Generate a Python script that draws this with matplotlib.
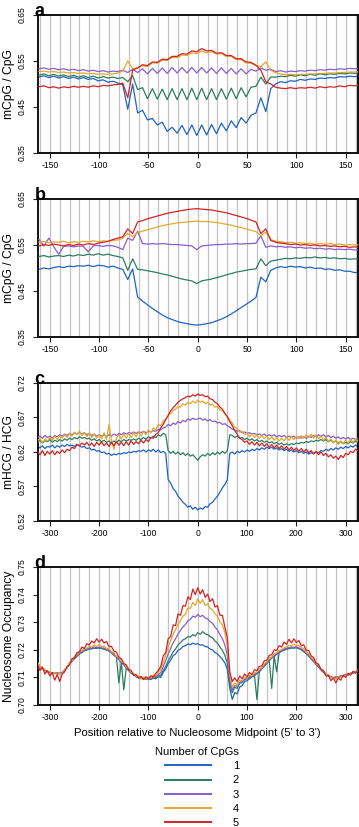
import numpy as np
import matplotlib
matplotlib.use("Agg")
import matplotlib.pyplot as plt

plt.rcParams['font.family'] = ['Liberation Sans', 'DejaVu Sans']
plt.rcParams['axes.unicode_minus'] = False

# ---------------- data ----------------
pos_ab = np.arange(-161, 165, 5)   # 66 positions, panels a/b
pos_cd = np.arange(-325, 326, 5)   # 131 positions, panels c/d

labels = ['1', '2', '3', '4', '5']
colors = ['#1f63c4', '#2b7d5f', '#8a5cd0', '#e3a82a', '#d42224']

# panel a : mCpG / CpG
a1 = [0.515, 0.518, 0.514, 0.517, 0.513, 0.516, 0.512, 0.515, 0.511, 0.514,
      0.510, 0.512, 0.507, 0.509, 0.504, 0.506, 0.502, 0.498, 0.445, 0.500,
      0.437, 0.443, 0.422, 0.425, 0.411, 0.417, 0.397, 0.406, 0.393, 0.410,
      0.390, 0.411, 0.388, 0.411, 0.389, 0.412, 0.392, 0.415, 0.398, 0.420,
      0.405, 0.427, 0.415, 0.432, 0.437, 0.470, 0.440, 0.490, 0.500, 0.505,
      0.503, 0.507, 0.506, 0.510, 0.508, 0.511, 0.510, 0.513, 0.512, 0.514,
      0.513, 0.516, 0.515, 0.517, 0.516, 0.517]
a2 = [0.519, 0.522, 0.518, 0.521, 0.517, 0.520, 0.516, 0.519, 0.515, 0.518,
      0.514, 0.517, 0.513, 0.516, 0.513, 0.515, 0.512, 0.514, 0.505, 0.518,
      0.488, 0.492, 0.468, 0.490, 0.467, 0.489, 0.466, 0.490, 0.466, 0.490,
      0.466, 0.491, 0.466, 0.491, 0.466, 0.490, 0.466, 0.490, 0.467, 0.491,
      0.468, 0.492, 0.472, 0.493, 0.495, 0.515, 0.500, 0.515, 0.515, 0.517,
      0.516, 0.519, 0.517, 0.520, 0.518, 0.521, 0.519, 0.522, 0.520, 0.522,
      0.521, 0.523, 0.522, 0.524, 0.523, 0.524]
a3 = [0.533, 0.535, 0.532, 0.534, 0.531, 0.533, 0.530, 0.532, 0.529, 0.531,
      0.528, 0.530, 0.527, 0.529, 0.526, 0.528, 0.527, 0.530, 0.525, 0.532,
      0.525, 0.533, 0.522, 0.534, 0.523, 0.535, 0.523, 0.536, 0.524, 0.536,
      0.524, 0.536, 0.524, 0.536, 0.524, 0.535, 0.523, 0.535, 0.523, 0.534,
      0.522, 0.533, 0.522, 0.532, 0.528, 0.535, 0.530, 0.532, 0.527, 0.529,
      0.526, 0.528, 0.527, 0.529, 0.528, 0.530, 0.529, 0.531, 0.530, 0.532,
      0.531, 0.533, 0.532, 0.534, 0.533, 0.534]
a4 = [0.527, 0.528, 0.526, 0.527, 0.525, 0.526, 0.524, 0.525, 0.523, 0.524,
      0.522, 0.523, 0.521, 0.522, 0.521, 0.522, 0.524, 0.528, 0.550, 0.533,
      0.535, 0.540, 0.538, 0.546, 0.545, 0.552, 0.551, 0.558, 0.557, 0.563,
      0.562, 0.568, 0.566, 0.572, 0.568, 0.570, 0.565, 0.566, 0.560, 0.560,
      0.553, 0.553, 0.546, 0.545, 0.540, 0.538, 0.548, 0.530, 0.524, 0.522,
      0.520, 0.521, 0.520, 0.521, 0.521, 0.522, 0.522, 0.523, 0.523, 0.524,
      0.524, 0.525, 0.525, 0.526, 0.526, 0.527]
a5 = [0.494, 0.496, 0.492, 0.494, 0.491, 0.494, 0.492, 0.495, 0.493, 0.495,
      0.493, 0.496, 0.494, 0.497, 0.496, 0.498, 0.499, 0.502, 0.470, 0.530,
      0.535, 0.542, 0.540, 0.548, 0.547, 0.554, 0.553, 0.560, 0.560, 0.566,
      0.565, 0.572, 0.570, 0.577, 0.572, 0.573, 0.567, 0.568, 0.562, 0.562,
      0.555, 0.555, 0.548, 0.547, 0.541, 0.530, 0.505, 0.500, 0.493, 0.491,
      0.490, 0.492, 0.490, 0.492, 0.491, 0.493, 0.491, 0.494, 0.492, 0.494,
      0.493, 0.496, 0.494, 0.497, 0.496, 0.498]

# panel b : mCpG / CpG
b1 = [0.497, 0.500, 0.498, 0.501, 0.503, 0.501, 0.504, 0.503, 0.505, 0.504,
      0.506, 0.503, 0.506, 0.505, 0.502, 0.504, 0.500, 0.497, 0.475, 0.498,
      0.437, 0.428, 0.420, 0.412, 0.405, 0.398, 0.392, 0.388, 0.384, 0.381,
      0.379, 0.377, 0.376, 0.377, 0.379, 0.381, 0.385, 0.389, 0.394, 0.400,
      0.407, 0.414, 0.421, 0.428, 0.436, 0.480, 0.470, 0.495, 0.500, 0.503,
      0.501, 0.504, 0.502, 0.503, 0.500, 0.502, 0.499, 0.500, 0.497, 0.498,
      0.495, 0.496, 0.493, 0.493, 0.490, 0.491]
b2 = [0.525, 0.527, 0.524, 0.526, 0.527, 0.525, 0.528, 0.526, 0.529, 0.527,
      0.530, 0.528, 0.531, 0.528, 0.530, 0.527, 0.525, 0.522, 0.495, 0.520,
      0.497, 0.496, 0.494, 0.492, 0.490, 0.487, 0.485, 0.482, 0.479, 0.476,
      0.474, 0.472, 0.466, 0.472, 0.474, 0.476, 0.479, 0.482, 0.485, 0.488,
      0.491, 0.493, 0.495, 0.497, 0.498, 0.520, 0.505, 0.515, 0.517, 0.519,
      0.521, 0.520, 0.522, 0.521, 0.523, 0.522, 0.524, 0.522, 0.523, 0.521,
      0.522, 0.520, 0.521, 0.519, 0.520, 0.519]
b3 = [0.562, 0.548, 0.565, 0.546, 0.530, 0.547, 0.548, 0.546, 0.548, 0.547,
      0.535, 0.548, 0.549, 0.547, 0.549, 0.548, 0.545, 0.540, 0.565, 0.560,
      0.580, 0.553, 0.552, 0.553, 0.552, 0.553, 0.552, 0.551, 0.551, 0.550,
      0.549, 0.548, 0.540, 0.548, 0.549, 0.550, 0.551, 0.551, 0.552, 0.552,
      0.553, 0.552, 0.553, 0.553, 0.554, 0.570, 0.545, 0.548, 0.546, 0.547,
      0.545, 0.546, 0.544, 0.545, 0.543, 0.544, 0.542, 0.543, 0.541, 0.542,
      0.540, 0.541, 0.540, 0.541, 0.539, 0.540]
b4 = [0.556, 0.558, 0.555, 0.557, 0.556, 0.558, 0.555, 0.557, 0.556, 0.558,
      0.557, 0.559, 0.557, 0.559, 0.558, 0.560, 0.561, 0.565, 0.575, 0.568,
      0.577, 0.580, 0.583, 0.586, 0.589, 0.592, 0.594, 0.596, 0.598, 0.599,
      0.600, 0.601, 0.602, 0.601, 0.601, 0.600, 0.599, 0.597, 0.595, 0.593,
      0.590, 0.588, 0.585, 0.582, 0.579, 0.570, 0.578, 0.562, 0.558, 0.557,
      0.555, 0.556, 0.554, 0.555, 0.553, 0.554, 0.552, 0.553, 0.552, 0.553,
      0.551, 0.552, 0.550, 0.551, 0.550, 0.551]
b5 = [0.548, 0.551, 0.549, 0.552, 0.550, 0.548, 0.551, 0.549, 0.552, 0.550,
      0.553, 0.551, 0.554, 0.556, 0.558, 0.562, 0.565, 0.568, 0.585, 0.575,
      0.600, 0.603, 0.607, 0.610, 0.613, 0.616, 0.619, 0.621, 0.623, 0.625,
      0.627, 0.628, 0.629, 0.628, 0.627, 0.626, 0.624, 0.622, 0.620, 0.617,
      0.614, 0.611, 0.608, 0.604, 0.600, 0.575, 0.585, 0.560, 0.556, 0.554,
      0.553, 0.551, 0.552, 0.550, 0.551, 0.549, 0.550, 0.548, 0.549, 0.547,
      0.548, 0.546, 0.547, 0.545, 0.546, 0.545]

# panel c : mHCG / HCG
c1 = [0.628, 0.626, 0.629, 0.625, 0.628, 0.627, 0.630, 0.626, 0.629, 0.627,
      0.630, 0.628, 0.631, 0.629, 0.630, 0.628, 0.631, 0.629, 0.627, 0.628,
      0.625, 0.626, 0.623, 0.624, 0.621, 0.622, 0.619, 0.620, 0.617, 0.618,
      0.615, 0.617, 0.616, 0.618, 0.617, 0.619, 0.618, 0.620, 0.619, 0.621,
      0.620, 0.622, 0.621, 0.623, 0.620, 0.623, 0.621, 0.624, 0.620, 0.623,
      0.619, 0.621, 0.618, 0.580, 0.575, 0.567, 0.563, 0.556, 0.552, 0.547,
      0.544, 0.540, 0.542, 0.537, 0.540, 0.536, 0.539, 0.537, 0.541, 0.540,
      0.545, 0.547, 0.552, 0.556, 0.562, 0.568, 0.573, 0.580, 0.618, 0.620,
      0.617, 0.621, 0.619, 0.622, 0.620, 0.623, 0.621, 0.624, 0.622, 0.625,
      0.623, 0.626, 0.624, 0.627, 0.625, 0.627, 0.624, 0.626, 0.623, 0.625,
      0.622, 0.624, 0.621, 0.623, 0.620, 0.622, 0.619, 0.621, 0.618, 0.620,
      0.617, 0.619, 0.618, 0.620, 0.619, 0.622, 0.621, 0.624, 0.622, 0.625,
      0.623, 0.626, 0.624, 0.627, 0.625, 0.628, 0.626, 0.629, 0.627, 0.630,
      0.628]
c2 = [0.634, 0.637, 0.633, 0.636, 0.635, 0.638, 0.634, 0.637, 0.635, 0.638,
      0.636, 0.639, 0.637, 0.640, 0.638, 0.641, 0.639, 0.642, 0.640, 0.641,
      0.639, 0.640, 0.637, 0.639, 0.636, 0.638, 0.635, 0.637, 0.634, 0.636,
      0.633, 0.636, 0.634, 0.637, 0.635, 0.638, 0.636, 0.638, 0.637, 0.639,
      0.637, 0.640, 0.638, 0.641, 0.639, 0.642, 0.640, 0.643, 0.641, 0.645,
      0.643, 0.647, 0.645, 0.622, 0.618, 0.621, 0.617, 0.620, 0.616, 0.619,
      0.615, 0.618, 0.614, 0.616, 0.612, 0.608, 0.613, 0.616, 0.614, 0.618,
      0.615, 0.619, 0.616, 0.620, 0.617, 0.621, 0.618, 0.622, 0.645, 0.644,
      0.641, 0.643, 0.640, 0.641, 0.638, 0.640, 0.637, 0.639, 0.636, 0.638,
      0.635, 0.637, 0.634, 0.636, 0.633, 0.635, 0.632, 0.634, 0.631, 0.633,
      0.630, 0.632, 0.630, 0.632, 0.631, 0.633, 0.632, 0.634, 0.633, 0.635,
      0.634, 0.636, 0.635, 0.637, 0.636, 0.638, 0.636, 0.638, 0.635, 0.637,
      0.634, 0.636, 0.633, 0.635, 0.632, 0.634, 0.632, 0.635, 0.633, 0.636,
      0.634]
c3 = [0.641, 0.643, 0.640, 0.644, 0.641, 0.643, 0.640, 0.644, 0.642, 0.645,
      0.643, 0.646, 0.644, 0.647, 0.645, 0.648, 0.646, 0.649, 0.646, 0.648,
      0.645, 0.647, 0.644, 0.646, 0.643, 0.645, 0.643, 0.645, 0.642, 0.645,
      0.643, 0.646, 0.644, 0.647, 0.645, 0.648, 0.646, 0.648, 0.647, 0.649,
      0.647, 0.649, 0.648, 0.650, 0.648, 0.650, 0.649, 0.651, 0.650, 0.653,
      0.652, 0.655, 0.656, 0.660, 0.658, 0.662, 0.660, 0.664, 0.662, 0.666,
      0.664, 0.668, 0.666, 0.669, 0.667, 0.668, 0.669, 0.666, 0.668, 0.665,
      0.667, 0.664, 0.665, 0.662, 0.663, 0.660, 0.661, 0.658, 0.656, 0.653,
      0.652, 0.650, 0.651, 0.648, 0.649, 0.647, 0.648, 0.646, 0.647, 0.645,
      0.646, 0.644, 0.646, 0.643, 0.645, 0.643, 0.645, 0.642, 0.644, 0.642,
      0.644, 0.641, 0.643, 0.641, 0.643, 0.640, 0.642, 0.640, 0.642, 0.640,
      0.643, 0.641, 0.644, 0.642, 0.645, 0.643, 0.645, 0.642, 0.644, 0.641,
      0.643, 0.640, 0.642, 0.639, 0.641, 0.639, 0.641, 0.638, 0.640, 0.638,
      0.640]
c4 = [0.636, 0.640, 0.633, 0.639, 0.636, 0.641, 0.637, 0.643, 0.638, 0.644,
      0.640, 0.645, 0.641, 0.647, 0.643, 0.649, 0.645, 0.650, 0.644, 0.648,
      0.642, 0.647, 0.641, 0.646, 0.640, 0.645, 0.639, 0.648, 0.638, 0.660,
      0.637, 0.624, 0.640, 0.645, 0.639, 0.646, 0.640, 0.647, 0.641, 0.648,
      0.642, 0.649, 0.643, 0.650, 0.645, 0.652, 0.648, 0.655, 0.652, 0.660,
      0.658, 0.665, 0.667, 0.673, 0.676, 0.680, 0.682, 0.686, 0.685, 0.690,
      0.688, 0.692, 0.690, 0.694, 0.691, 0.695, 0.692, 0.694, 0.690, 0.692,
      0.688, 0.689, 0.685, 0.686, 0.681, 0.680, 0.675, 0.672, 0.666, 0.662,
      0.656, 0.654, 0.649, 0.650, 0.645, 0.647, 0.642, 0.646, 0.641, 0.645,
      0.640, 0.644, 0.639, 0.643, 0.638, 0.642, 0.637, 0.641, 0.636, 0.640,
      0.636, 0.641, 0.637, 0.642, 0.638, 0.643, 0.639, 0.644, 0.640, 0.645,
      0.641, 0.646, 0.640, 0.645, 0.639, 0.643, 0.637, 0.641, 0.635, 0.639,
      0.633, 0.637, 0.631, 0.636, 0.632, 0.637, 0.633, 0.638, 0.634, 0.639,
      0.636]
c5 = [0.620, 0.616, 0.622, 0.615, 0.621, 0.617, 0.622, 0.616, 0.621, 0.618,
      0.623, 0.619, 0.624, 0.622, 0.627, 0.625, 0.631, 0.629, 0.633, 0.630,
      0.634, 0.629, 0.633, 0.628, 0.634, 0.630, 0.635, 0.629, 0.633, 0.628,
      0.634, 0.629, 0.635, 0.630, 0.634, 0.629, 0.635, 0.630, 0.636, 0.631,
      0.635, 0.632, 0.637, 0.633, 0.638, 0.635, 0.641, 0.640, 0.646, 0.648,
      0.655, 0.660, 0.667, 0.673, 0.680, 0.684, 0.688, 0.692, 0.695, 0.697,
      0.699, 0.701, 0.700, 0.703, 0.701, 0.704, 0.702, 0.703, 0.700, 0.701,
      0.697, 0.696, 0.692, 0.690, 0.685, 0.682, 0.676, 0.671, 0.664, 0.658,
      0.651, 0.646, 0.640, 0.638, 0.634, 0.636, 0.631, 0.635, 0.630, 0.634,
      0.629, 0.633, 0.628, 0.632, 0.627, 0.631, 0.626, 0.630, 0.625, 0.629,
      0.624, 0.628, 0.623, 0.627, 0.622, 0.626, 0.621, 0.625, 0.620, 0.624,
      0.619, 0.622, 0.617, 0.621, 0.616, 0.620, 0.615, 0.618, 0.613, 0.616,
      0.611, 0.614, 0.609, 0.615, 0.612, 0.618, 0.616, 0.621, 0.619, 0.624,
      0.622]

# panel d : nucleosome occupancy
d1 = [0.7152, 0.7140, 0.7133, 0.7125, 0.7122, 0.7118, 0.7115, 0.7117, 0.7113, 0.7116,
      0.7114, 0.7127, 0.7135, 0.7150, 0.7158, 0.7170, 0.7176, 0.7186, 0.7190, 0.7197,
      0.7199, 0.7204, 0.7203, 0.7207, 0.7205, 0.7208, 0.7204, 0.7205, 0.7199, 0.7197,
      0.7189, 0.7182, 0.7173, 0.7165, 0.7153, 0.7146, 0.7134, 0.7126, 0.7115, 0.7110,
      0.7102, 0.7100, 0.7095, 0.7097, 0.7093, 0.7096, 0.7092, 0.7098, 0.7095, 0.7103,
      0.7100, 0.7118, 0.7130, 0.7150, 0.7162, 0.7178, 0.7185, 0.7198, 0.7203, 0.7212,
      0.7215, 0.7221, 0.7219, 0.7224, 0.7220, 0.7222, 0.7217, 0.7218, 0.7212, 0.7210,
      0.7203, 0.7199, 0.7190, 0.7185, 0.7175, 0.7166, 0.7152, 0.7130, 0.7060, 0.7020,
      0.7045, 0.7040, 0.7065, 0.7070, 0.7085, 0.7088, 0.7095, 0.7102, 0.7106, 0.7114,
      0.7120, 0.7131, 0.7140, 0.7152, 0.7160, 0.7170, 0.7176, 0.7184, 0.7189, 0.7195,
      0.7198, 0.7203, 0.7204, 0.7207, 0.7206, 0.7208, 0.7204, 0.7201, 0.7193, 0.7187,
      0.7177, 0.7168, 0.7157, 0.7148, 0.7137, 0.7128, 0.7118, 0.7112, 0.7104, 0.7102,
      0.7097, 0.7101, 0.7099, 0.7105, 0.7104, 0.7110, 0.7108, 0.7114, 0.7115, 0.7120,
      0.7124]
d2 = [0.7150, 0.7138, 0.7131, 0.7127, 0.7120, 0.7119, 0.7114, 0.7116, 0.7115, 0.7113,
      0.7117, 0.7125, 0.7137, 0.7148, 0.7160, 0.7168, 0.7179, 0.7185, 0.7192, 0.7196,
      0.7201, 0.7203, 0.7206, 0.7205, 0.7208, 0.7206, 0.7206, 0.7202, 0.7200, 0.7195,
      0.7190, 0.7180, 0.7175, 0.7080, 0.7155, 0.7055, 0.7136, 0.7124, 0.7117, 0.7108,
      0.7104, 0.7098, 0.7097, 0.7095, 0.7096, 0.7094, 0.7097, 0.7096, 0.7100, 0.7105,
      0.7108, 0.7125, 0.7140, 0.7160, 0.7175, 0.7192, 0.7203, 0.7218, 0.7226, 0.7236,
      0.7240, 0.7248, 0.7246, 0.7255, 0.7250, 0.7262, 0.7256, 0.7266, 0.7258, 0.7255,
      0.7248, 0.7243, 0.7232, 0.7224, 0.7210, 0.7198, 0.7180, 0.7150, 0.7075, 0.7045,
      0.7065, 0.7060, 0.7078, 0.7082, 0.7092, 0.7095, 0.7100, 0.7104, 0.7108, 0.7020,
      0.7122, 0.7133, 0.7142, 0.7150, 0.7162, 0.7060, 0.7178, 0.7120, 0.7190, 0.7196,
      0.7200, 0.7204, 0.7206, 0.7208, 0.7207, 0.7209, 0.7205, 0.7200, 0.7195, 0.7186,
      0.7178, 0.7167, 0.7158, 0.7147, 0.7138, 0.7127, 0.7119, 0.7110, 0.7106, 0.7100,
      0.7099, 0.7100, 0.7101, 0.7103, 0.7106, 0.7108, 0.7111, 0.7113, 0.7117, 0.7119,
      0.7123]
d3 = [0.7148, 0.7136, 0.7130, 0.7124, 0.7121, 0.7117, 0.7116, 0.7113, 0.7117, 0.7115,
      0.7118, 0.7128, 0.7136, 0.7150, 0.7161, 0.7172, 0.7180, 0.7188, 0.7193, 0.7199,
      0.7202, 0.7207, 0.7206, 0.7210, 0.7208, 0.7210, 0.7207, 0.7206, 0.7201, 0.7198,
      0.7190, 0.7184, 0.7174, 0.7166, 0.7156, 0.7147, 0.7136, 0.7127, 0.7118, 0.7111,
      0.7105, 0.7100, 0.7098, 0.7098, 0.7096, 0.7098, 0.7097, 0.7101, 0.7103, 0.7110,
      0.7118, 0.7140, 0.7160, 0.7185, 0.7205, 0.7225, 0.7240, 0.7258, 0.7270, 0.7283,
      0.7292, 0.7305, 0.7310, 0.7322, 0.7318, 0.7328, 0.7320, 0.7325, 0.7315, 0.7312,
      0.7302, 0.7296, 0.7282, 0.7272, 0.7255, 0.7240, 0.7218, 0.7180, 0.7090, 0.7055,
      0.7070, 0.7068, 0.7082, 0.7086, 0.7094, 0.7097, 0.7102, 0.7106, 0.7110, 0.7118,
      0.7124, 0.7134, 0.7144, 0.7154, 0.7163, 0.7171, 0.7179, 0.7186, 0.7192, 0.7198,
      0.7202, 0.7206, 0.7208, 0.7210, 0.7209, 0.7211, 0.7207, 0.7203, 0.7196, 0.7189,
      0.7180, 0.7170, 0.7160, 0.7150, 0.7140, 0.7130, 0.7121, 0.7114, 0.7107, 0.7103,
      0.7099, 0.7102, 0.7101, 0.7106, 0.7107, 0.7111, 0.7112, 0.7116, 0.7118, 0.7121,
      0.7125]
d4 = [0.7155, 0.7140, 0.7128, 0.7130, 0.7118, 0.7122, 0.7112, 0.7118, 0.7110, 0.7116,
      0.7112, 0.7130, 0.7134, 0.7155, 0.7160, 0.7178, 0.7182, 0.7195, 0.7196, 0.7206,
      0.7205, 0.7214, 0.7210, 0.7218, 0.7212, 0.7219, 0.7210, 0.7214, 0.7204, 0.7206,
      0.7192, 0.7190, 0.7176, 0.7172, 0.7158, 0.7152, 0.7138, 0.7132, 0.7118, 0.7115,
      0.7104, 0.7105, 0.7096, 0.7102, 0.7095, 0.7103, 0.7098, 0.7108, 0.7106, 0.7120,
      0.7130, 0.7155, 0.7180, 0.7210, 0.7232, 0.7256, 0.7272, 0.7292, 0.7305, 0.7322,
      0.7328, 0.7352, 0.7350, 0.7372, 0.7360, 0.7385, 0.7368, 0.7382, 0.7360, 0.7366,
      0.7350, 0.7345, 0.7330, 0.7322, 0.7302, 0.7290, 0.7262, 0.7215, 0.7110, 0.7065,
      0.7080, 0.7072, 0.7090, 0.7088, 0.7100, 0.7098, 0.7108, 0.7106, 0.7116, 0.7120,
      0.7130, 0.7136, 0.7150, 0.7156, 0.7170, 0.7174, 0.7186, 0.7189, 0.7198, 0.7200,
      0.7208, 0.7210, 0.7216, 0.7214, 0.7220, 0.7215, 0.7216, 0.7208, 0.7204, 0.7192,
      0.7186, 0.7172, 0.7165, 0.7150, 0.7144, 0.7130, 0.7124, 0.7112, 0.7108, 0.7098,
      0.7100, 0.7094, 0.7102, 0.7100, 0.7108, 0.7106, 0.7114, 0.7112, 0.7120, 0.7118,
      0.7126]
d5 = [0.7145, 0.7125, 0.7138, 0.7112, 0.7125, 0.7105, 0.7118, 0.7090, 0.7110, 0.7085,
      0.7112, 0.7120, 0.7140, 0.7145, 0.7168, 0.7170, 0.7190, 0.7192, 0.7210, 0.7205,
      0.7222, 0.7218, 0.7232, 0.7225, 0.7240, 0.7228, 0.7238, 0.7225, 0.7230, 0.7212,
      0.7212, 0.7195, 0.7192, 0.7172, 0.7168, 0.7150, 0.7145, 0.7128, 0.7125, 0.7108,
      0.7110, 0.7098, 0.7104, 0.7092, 0.7102, 0.7095, 0.7106, 0.7102, 0.7115, 0.7125,
      0.7140, 0.7178, 0.7190, 0.7240, 0.7248, 0.7290, 0.7288, 0.7330, 0.7325, 0.7360,
      0.7358, 0.7392, 0.7382, 0.7420, 0.7400, 0.7425, 0.7402, 0.7418, 0.7390, 0.7402,
      0.7375, 0.7385, 0.7355, 0.7360, 0.7325, 0.7325, 0.7282, 0.7245, 0.7120, 0.7085,
      0.7098, 0.7085, 0.7105, 0.7095, 0.7112, 0.7102, 0.7118, 0.7110, 0.7128, 0.7125,
      0.7140, 0.7142, 0.7160, 0.7162, 0.7180, 0.7182, 0.7200, 0.7198, 0.7215, 0.7210,
      0.7228, 0.7220, 0.7238, 0.7225, 0.7240, 0.7226, 0.7234, 0.7215, 0.7218, 0.7198,
      0.7198, 0.7178, 0.7172, 0.7152, 0.7148, 0.7128, 0.7125, 0.7105, 0.7108, 0.7088,
      0.7098, 0.7080, 0.7098, 0.7090, 0.7108, 0.7100, 0.7115, 0.7108, 0.7122, 0.7115,
      0.7128]

xticks_ab = [-150, -100, -50, 0, 50, 100, 150]
xticks_cd = [-300, -200, -100, 0, 100, 200, 300]
yticks_a = [0.35, 0.45, 0.55, 0.65]
yticks_c = [0.52, 0.57, 0.62, 0.67, 0.72]
yticks_d = [0.70, 0.71, 0.72, 0.73, 0.74, 0.75]
grid_ab = list(range(-160, 161, 10))
grid_cd = list(range(-320, 321, 20))

# ---------------- figure ----------------
W, H = 359, 827
fig = plt.figure(figsize=(W / 100, H / 100), dpi=100)

X0, X1 = 37.5, 357.7


def make_ax(top, bottom):
    return fig.add_axes([X0 / W, 1 - bottom / H, (X1 - X0) / W, (bottom - top) / H])


panels = [
    dict(top=15, bottom=153, pos=pos_ab, ser=[a1, a2, a3, a4, a5], xlim=(-162.5, 162.2),
         ylim=(0.35, 0.65), xt=xticks_ab, yt=yticks_a, fmt='%.2f', grid=grid_ab,
         ylabel='mCpG / CpG', letter='a'),
    dict(top=199, bottom=337, pos=pos_ab, ser=[b1, b2, b3, b4, b5], xlim=(-162.5, 162.2),
         ylim=(0.35, 0.65), xt=xticks_ab, yt=yticks_a, fmt='%.2f', grid=grid_ab,
         ylabel='mCpG / CpG', letter='b'),
    dict(top=383, bottom=521, pos=pos_cd, ser=[c1, c2, c3, c4, c5], xlim=(-325.0, 324.4),
         ylim=(0.52, 0.72), xt=xticks_cd, yt=yticks_c, fmt='%.2f', grid=grid_cd,
         ylabel='mHCG / HCG', letter='c'),
    dict(top=567, bottom=705, pos=pos_cd, ser=[d1, d2, d3, d4, d5], xlim=(-325.0, 324.4),
         ylim=(0.70, 0.75), xt=xticks_cd, yt=yticks_d, fmt='%.2f', grid=grid_cd,
         ylabel='Nucleosome Occupancy', letter='d'),
]

handles = []
for p in panels:
    ax = make_ax(p['top'], p['bottom'])
    for g in p['grid']:
        ax.axvline(g, color='#c3c3c3', lw=0.9, zorder=0)
    for i, s in enumerate(p['ser']):
        if len(s) != len(p['pos']):
            raise ValueError('length mismatch in panel %s series %d: %d vs %d'
                             % (p['letter'], i + 1, len(s), len(p['pos'])))
        ln, = ax.plot(p['pos'], s, color=colors[i], lw=0.9, zorder=2 + i,
                      label=labels[i])
        if p['letter'] == 'd':
            handles.append(ln)
    ax.set_xlim(*p['xlim'])
    ax.set_ylim(*p['ylim'])
    ax.set_xticks(p['xt'])
    ax.set_xticklabels([str(t) for t in p['xt']])
    ax.set_yticks(p['yt'])
    ax.set_yticklabels([p['fmt'] % t for t in p['yt']])
    ax.tick_params(axis='both', direction='out', length=3.4, width=0.8,
                   labelsize=6.2, color='#222222')
    ax.tick_params(axis='x', pad=2.5)
    ax.tick_params(axis='y', labelrotation=90, pad=4.5)
    for lab in ax.get_yticklabels():
        lab.set_va('center')
    for sp in ax.spines.values():
        sp.set_linewidth(1.4)
        sp.set_color('#111111')
    yc = (p['top'] + p['bottom']) / 2
    fig.text(9.5 / W, 1 - yc / H, p['ylabel'], rotation=90, ha='center', va='center',
             fontsize=8.7)
    fig.text(34.5 / W, 1 - (p['top'] + 0.5) / H, p['letter'], fontsize=13,
             fontweight='bold', ha='left', va='baseline')

fig.text(197.7 / W, 1 - 733 / H, "Position relative to Nucleosome Midpoint (5' to 3')",
         ha='center', va='center', fontsize=8.1)

leg = fig.legend(handles=handles, labels=labels, title='Number of CpGs',
                 loc='upper right', bbox_to_anchor=(239 / W, 1 - 747 / H),
                 frameon=False, fontsize=8, title_fontsize=8, handlelength=4.1,
                 handletextpad=2.0, labelspacing=0.38, borderpad=0, borderaxespad=0,
                 alignment='right')
for lh in leg.get_lines():
    lh.set_linewidth(1.4)

fig.savefig('out.png', dpi=100)
